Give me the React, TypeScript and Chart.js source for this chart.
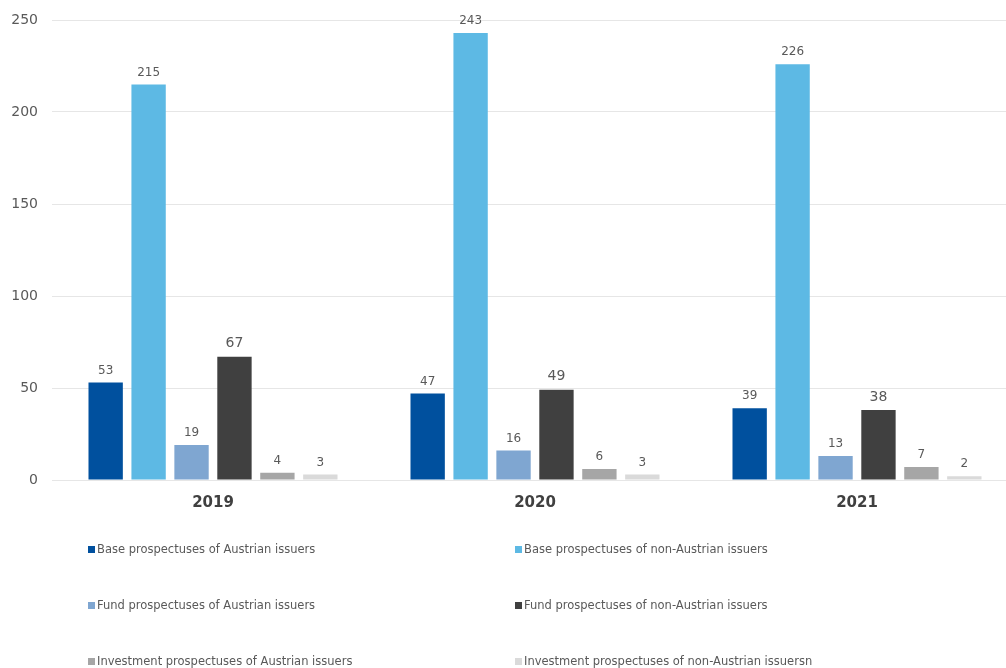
import React, { useEffect, useRef } from "react";
import { Chart, registerables } from "chart.js";

Chart.register(...registerables);

// ---- data ----
const categories = ["2019", "2020", "2021"];
const seriesNames = [
  "Base prospectuses of Austrian issuers",
  "Base prospectuses of non-Austrian issuers",
  "Fund prospectuses of Austrian issuers",
  "Fund prospectuses of non-Austrian issuers",
  "Investment prospectuses of Austrian issuers",
  "Investment prospectuses of non-Austrian issuersn",
];
const baseAustrian = [53, 47, 39];
const baseNonAustrian = [215, 243, 226];
const fundAustrian = [19, 16, 13];
const fundNonAustrian = [67, 49, 38];
const investAustrian = [4, 6, 7];
const investNonAustrian = [3, 3, 2];
const yTickValues = [0, 50, 100, 150, 200, 250];

// ---- styles ----
const seriesColors = ["#00509e", "#5db9e4", "#7fa6d1", "#404040", "#a6a6a6", "#dadada"];
const labelSizes = [12, 12, 12, 14, 12, 12];
const FONT = "'DejaVu Sans', sans-serif";

const seriesValues = [
  baseAustrian,
  baseNonAustrian,
  fundAustrian,
  fundNonAustrian,
  investAustrian,
  investNonAustrian,
];

const valueLabelPlugin = {
  id: "valueLabels",
  afterDatasetsDraw(chart: any) {
    const ctx = chart.ctx;
    ctx.save();
    ctx.textAlign = "center";
    ctx.textBaseline = "bottom";
    ctx.fillStyle = "#595959";
    chart.data.datasets.forEach((ds: any, i: number) => {
      const meta = chart.getDatasetMeta(i);
      ctx.font = `${labelSizes[i]}px ${FONT}`;
      meta.data.forEach((bar: any, j: number) => {
        ctx.fillText(String(ds.data[j]), bar.x, bar.y - 6);
      });
    });
    ctx.restore();
  },
};

const legendPlugin = {
  id: "gridLegend",
  afterDraw(chart: any) {
    const ctx = chart.ctx;
    ctx.save();
    ctx.font = `11.5px ${FONT}`;
    ctx.textBaseline = "middle";
    ctx.textAlign = "left";
    const colX = [88, 515];
    const rowY = [550, 606, 662];
    seriesNames.forEach((name, i) => {
      const x = colX[i % 2];
      const y = rowY[Math.floor(i / 2)];
      ctx.fillStyle = seriesColors[i];
      ctx.fillRect(x, y - 4, 7, 7);
      ctx.fillStyle = "#595959";
      ctx.fillText(name, x + 9, y);
    });
    ctx.restore();
  },
};

export default function App() {
  const ref = useRef<HTMLCanvasElement | null>(null);

  useEffect(() => {
    if (!ref.current) return;
    const chart = new Chart(ref.current, {
      type: "bar",
      data: {
        labels: categories,
        datasets: seriesNames.map((name, i) => ({
          label: name,
          data: seriesValues[i],
          backgroundColor: seriesColors[i],
          borderWidth: 0,
          barPercentage: 0.8,
          categoryPercentage: 0.8,
        })),
      },
      options: {
        responsive: false,
        animation: false,
        events: [],
        devicePixelRatio: 1,
        layout: { padding: { left: 0, right: 12, top: 20, bottom: 0 } },
        plugins: {
          legend: { display: false },
          tooltip: { enabled: false },
        },
        scales: {
          x: {
            grid: { display: false, drawTicks: false },
            border: { display: false },
            ticks: {
              padding: 14,
              color: "#404040",
              font: { family: FONT, size: 15, weight: "bold" },
            },
            afterFit(scale: any) {
              scale.height = 188;
              scale.paddingLeft = 0;
              scale.paddingRight = 0;
            },
          },
          y: {
            min: 0,
            max: 250,
            afterBuildTicks(scale: any) {
              scale.ticks = yTickValues.map((v) => ({ value: v }));
            },
            grid: { color: "#e6e6e6", drawTicks: false, lineWidth: 1 },
            border: { display: false },
            ticks: {
              padding: 14,
              color: "#595959",
              font: { family: FONT, size: 14 },
            },
            afterFit(scale: any) {
              scale.width = 52;
              scale.paddingTop = 0;
              scale.paddingBottom = 0;
            },
          },
        },
      },
      plugins: [valueLabelPlugin, legendPlugin],
    });
    return () => chart.destroy();
  }, []);

  return (
    <div
      style={{
        position: "fixed",
        left: 0,
        top: 0,
        width: 1006,
        height: 668,
        overflow: "hidden",
        background: "#ffffff",
      }}
    >
      <canvas ref={ref} width={1030} height={668} style={{ width: 1030, height: 668, display: "block" }} />
    </div>
  );
}
